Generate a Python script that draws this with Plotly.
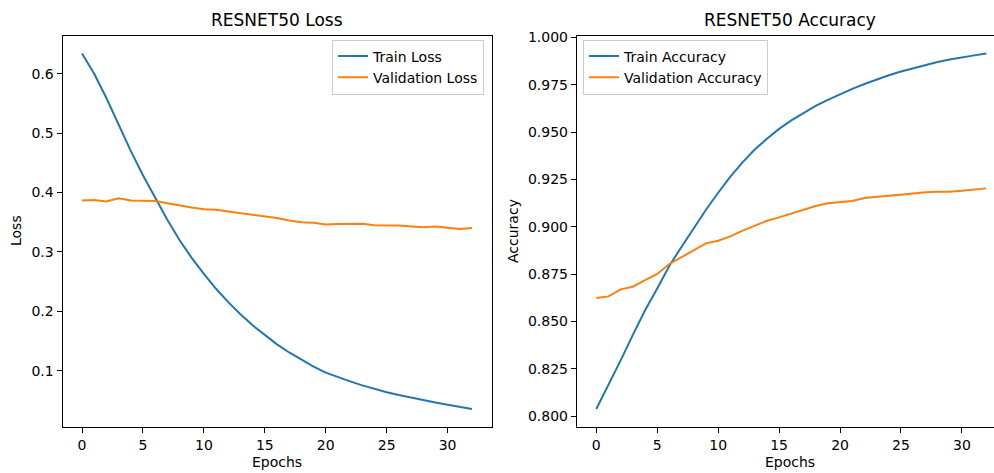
import plotly.graph_objects as go

epochs = list(range(33))

train_loss = [0.634, 0.600, 0.559, 0.514, 0.470, 0.429, 0.391, 0.354, 0.320, 0.290, 0.263,
              0.238, 0.2155, 0.195, 0.1765, 0.1597, 0.1445, 0.1308, 0.1184, 0.1071, 0.0969,
              0.0893, 0.0821, 0.0755, 0.0695, 0.0640, 0.0591, 0.0546, 0.0504, 0.0466, 0.0430,
              0.0393, 0.0358]
val_loss = [0.3864, 0.3875, 0.385, 0.3905, 0.3864, 0.386, 0.3858, 0.382, 0.378, 0.3747, 0.372,
            0.371, 0.368, 0.3655, 0.3625, 0.360, 0.357, 0.353, 0.350, 0.349, 0.346,
            0.347, 0.347, 0.3475, 0.345, 0.345, 0.3443, 0.343, 0.3415, 0.3427, 0.341,
            0.3387, 0.3404]
train_acc = [0.8039, 0.8165, 0.8295, 0.843, 0.856, 0.8675, 0.8795, 0.8895, 0.8995, 0.909, 0.918,
             0.9265, 0.934, 0.9408, 0.9465, 0.9517, 0.9562, 0.9602, 0.9638, 0.967, 0.970,
             0.9728, 0.9754, 0.9778, 0.980, 0.982, 0.9838, 0.9855, 0.987, 0.9883, 0.9895,
             0.9905, 0.9915]
val_acc = [0.8624, 0.8633, 0.867, 0.8684, 0.8719, 0.8751, 0.8804, 0.8839, 0.8874, 0.8913, 0.8927,
           0.895, 0.898, 0.9006, 0.9032, 0.905, 0.9069, 0.9092, 0.911, 0.9124, 0.9129,
           0.9136, 0.9152, 0.916, 0.9164, 0.917, 0.9176, 0.9183, 0.9185, 0.9185, 0.919,
           0.9196, 0.9203]

x_ticks = [0, 5, 10, 15, 20, 25, 30]
loss_ticks = [0.1, 0.2, 0.3, 0.4, 0.5, 0.6]
acc_ticks = [0.800, 0.825, 0.850, 0.875, 0.900, 0.925, 0.950, 0.975, 1.000]

BLUE = "#1f77b4"
ORANGE = "#ff7f0e"
FONT = "DejaVu Sans"
W, H = 994, 473


def auto_range(*series):
    lo = min(min(s) for s in series)
    hi = max(max(s) for s in series)
    pad = 0.05 * (hi - lo)
    return [lo - pad, hi + pad]


fig = go.Figure()
fig.add_trace(go.Scatter(x=epochs, y=train_loss, mode="lines", name="Train Loss",
                         line=dict(color=BLUE, width=2), xaxis="x", yaxis="y", legend="legend"))
fig.add_trace(go.Scatter(x=epochs, y=val_loss, mode="lines", name="Validation Loss",
                         line=dict(color=ORANGE, width=2), xaxis="x", yaxis="y", legend="legend"))
fig.add_trace(go.Scatter(x=epochs, y=train_acc, mode="lines", name="Train Accuracy",
                         line=dict(color=BLUE, width=2), xaxis="x2", yaxis="y2", legend="legend2"))
fig.add_trace(go.Scatter(x=epochs, y=val_acc, mode="lines", name="Validation Accuracy",
                         line=dict(color=ORANGE, width=2), xaxis="x2", yaxis="y2", legend="legend2"))

ydom = [1 - 426.7 / H, 1 - 35.7 / H]
axis_common = dict(showgrid=False, zeroline=False, showline=True, linecolor="black", linewidth=1,
                   ticks="outside", ticklen=5, tickwidth=1, tickcolor="black",
                   tickfont=dict(family=FONT, size=14, color="black"), automargin=False)

xr = [-1.6, 33.6]
right_left_px = 576.8
right_span_px = 429.0
right_hi = xr[0] + (W - right_left_px) / right_span_px * (xr[1] - xr[0])

fig.update_layout(
    width=W, height=H,
    margin=dict(l=0, r=0, t=0, b=0),
    paper_bgcolor="white", plot_bgcolor="white",
    font=dict(family=FONT, size=14, color="black"),
    xaxis=dict(domain=[62.5 / W, 491.5 / W], range=xr, tickvals=x_ticks, anchor="y",
               mirror=True, **axis_common),
    yaxis=dict(domain=ydom, range=auto_range(train_loss, val_loss), tickvals=loss_ticks,
               tickformat=".1f", anchor="x", mirror=True, **axis_common),
    xaxis2=dict(domain=[right_left_px / W, 1.0], range=[xr[0], right_hi], tickvals=x_ticks,
                anchor="y2", mirror=True, **axis_common),
    yaxis2=dict(domain=ydom, range=auto_range(train_acc, val_acc), tickvals=acc_ticks,
                tickformat=".3f", anchor="x2", mirror=False, **axis_common),
    legend=dict(x=484 / W, y=1 - 39.5 / H, xanchor="right", yanchor="top",
                bgcolor="white", bordercolor="#cccccc", borderwidth=1,
                font=dict(family=FONT, size=14, color="black"), itemwidth=30),
    legend2=dict(x=583 / W, y=1 - 39.5 / H, xanchor="left", yanchor="top",
                 bgcolor="white", bordercolor="#cccccc", borderwidth=1,
                 font=dict(family=FONT, size=14, color="black"), itemwidth=30),
    showlegend=True,
)

ann = [
    dict(text="RESNET50 Loss", x=277 / W, y=1 - 20 / H, font=dict(size=17)),
    dict(text="RESNET50 Accuracy", x=790 / W, y=1 - 20 / H, font=dict(size=17)),
    dict(text="Epochs", x=277 / W, y=1 - 462 / H, font=dict(size=14)),
    dict(text="Epochs", x=790 / W, y=1 - 462 / H, font=dict(size=14)),
    dict(text="Loss", x=16 / W, y=1 - 231 / H, font=dict(size=14), textangle=-90),
    dict(text="Accuracy", x=513 / W, y=1 - 231 / H, font=dict(size=14), textangle=-90),
]
for a in ann:
    a.update(xref="paper", yref="paper", showarrow=False, xanchor="center", yanchor="middle")
    a["font"].update(family=FONT, color="black")
fig.update_layout(annotations=ann)

fig.write_html("out.html", config={"displayModeBar": False},
               post_script="document.body.style.margin='0';document.body.style.padding='0';")
